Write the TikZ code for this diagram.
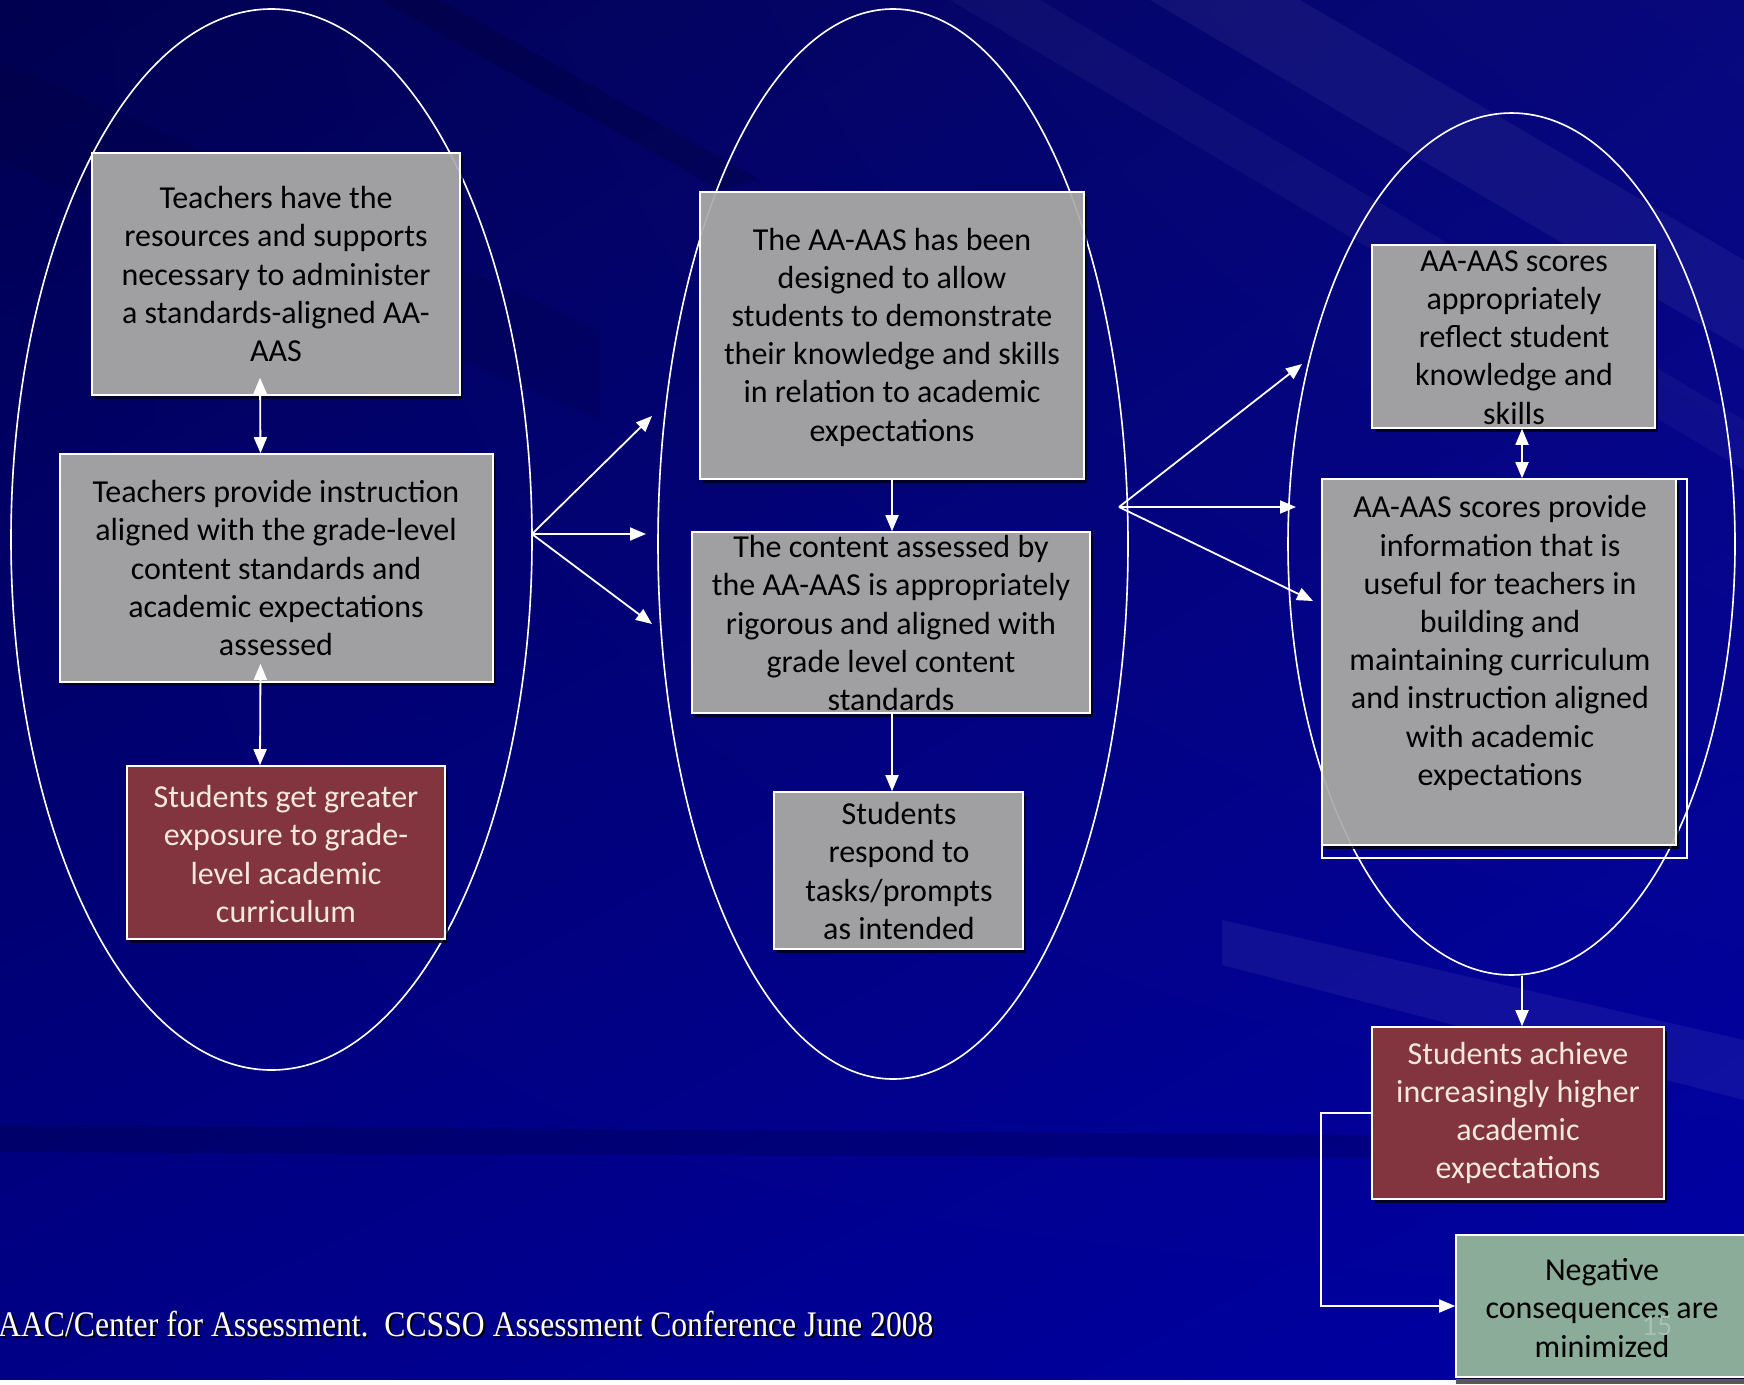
\documentclass[tikz,border=0pt]{standalone}
\usepackage{fontspec}
\setmainfont{Carlito}
\newfontfamily\footfont{Liberation Serif}
\usetikzlibrary{arrows.meta,shapes.geometric,shadows,shadings}

\definecolor{boxgray}{RGB}{160,160,163}
\definecolor{boxmaroon}{RGB}{131,53,63}
\definecolor{boxsage}{RGB}{139,172,152}
\definecolor{paletext}{RGB}{243,232,222}
\definecolor{shadowc}{RGB}{0,0,40}
\definecolor{bgul}{RGB}{0,0,80}
\definecolor{bgur}{RGB}{8,8,125}
\definecolor{bgll}{RGB}{0,0,135}
\definecolor{bglr}{RGB}{0,0,165}

\begin{document}
\begin{tikzpicture}[x=1pt,y=-1pt,
  bx/.style={draw=white, line width=1.6pt, inner sep=0pt,
    drop shadow={shadow xshift=3pt, shadow yshift=-4pt, fill=shadowc, opacity=1}},
  graybox/.style={bx, fill=boxgray},
  redbox/.style={bx, fill=boxmaroon},
  greenbox/.style={bx, fill=boxsage},
  txt/.style={align=center, inner sep=0pt, font=\fontsize{32}{38.2}\selectfont},
  oval/.style={ellipse, draw=white, line width=1.6pt, inner sep=0pt},
  arr/.style={draw=white, line width=1.8pt, -{Triangle[length=16pt,width=13pt]}},
  darr/.style={draw=white, line width=1.8pt, {Triangle[length=16pt,width=13pt]}-{Triangle[length=16pt,width=13pt]}},
  link/.style={draw=white, line width=1.6pt, -{Triangle[length=16pt,width=13pt]}}
]
\useasboundingbox (0,0) rectangle (1744,1384);
\clip (0,0) rectangle (1744,1384);

% background
\fill[white] (0,0) rectangle (1744,1384);
\shade[upper left=bgul, upper right=bgur, lower left=bgll, lower right=bglr]
  (0,0) rectangle (1744,1380);
\fill[white, opacity=0.05] (1150,0) -- (1300,0) -- (1744,260) -- (1744,350) -- cycle;
\fill[white, opacity=0.04] (950,0) -- (1040,0) -- (1744,420) -- (1744,470) -- cycle;
\fill[black, opacity=0.15] (380,0) -- (440,0) -- (760,180) -- (720,190) -- cycle;
\fill[white, opacity=0.06] (1222,920) -- (1744,1040) -- (1744,1100) -- (1222,965) -- cycle;
\fill[black, opacity=0.15] (0,1125) -- (1372,1135) -- (1372,1158) -- (0,1152) -- cycle;
\fill[black, opacity=0.08] (0,60) -- (0,160) -- (600,420) -- (600,330) -- cycle;

% ellipses
\node[oval, minimum width=521pt, minimum height=1061pt] (e1) at (271.5,539.5) {};
\node[oval, minimum width=470pt, minimum height=1070pt] (e2) at (893,544) {};
\node[oval, minimum width=447pt, minimum height=862pt] (e3) at (1511.5,544) {};

% boxes
\node[graybox, minimum width=368pt, minimum height=242pt] (A) at (276,274) {};
\node[graybox, minimum width=433pt, minimum height=228pt] (B) at (276.5,568) {};
\node[redbox, minimum width=318pt, minimum height=173pt] (C) at (286,852.5) {};
\node[graybox, minimum width=384pt, minimum height=287pt] (D) at (892,335.5) {};
\node[graybox, minimum width=398pt, minimum height=181pt] (E) at (891,622.5) {};
\node[graybox, minimum width=249pt, minimum height=157pt] (F) at (898.5,870.5) {};
\node[graybox, minimum width=283pt, minimum height=183pt] (G) at (1513.5,336.5) {};
\node[graybox, minimum width=354pt, minimum height=366pt] (H) at (1499,662) {};
\node[draw=white, line width=1.6pt, minimum width=365pt, minimum height=379pt, inner sep=0pt] (Hframe) at (1504.5,668.5) {};
\node[redbox, minimum width=292pt, minimum height=172pt] (I) at (1518,1113) {};
\node[greenbox, minimum width=292pt, minimum height=142pt] (J) at (1602,1306) {};

% faint ellipse lines over boxes
\draw[white, line width=1.4pt, opacity=0.18] (271.5,539.5) ellipse [x radius=260.5, y radius=530.5];
\draw[white, line width=1.4pt, opacity=0.18] (893,544) ellipse [x radius=235, y radius=535];
\draw[white, line width=1.4pt, opacity=0.18] (1511.5,544) ellipse [x radius=223.5, y radius=431];

% texts
\node[txt] (tA) at (276,274) {Teachers have the\\resources and supports\\necessary to administer\\a standards-aligned AA-\\AAS};
\node[txt] (tB) at (276,568) {Teachers provide instruction\\aligned with the grade-level\\content standards and\\academic expectations\\assessed};
\node[txt, text=paletext] (tC) at (286,854) {Students get greater\\exposure to grade-\\level academic\\curriculum};
\node[txt] (tD) at (892,337) {The AA-AAS has been\\designed to allow\\students to demonstrate\\their knowledge and skills\\in relation to academic\\expectations};
\node[txt] (tE) at (891,623) {The content assessed by\\the AA-AAS is appropriately\\rigorous and aligned with\\grade level content\\standards};
\node[txt] (tF) at (899,871) {Students\\respond to\\tasks/prompts\\as intended};
\node[txt] (tG) at (1514,337.5) {AA-AAS scores\\appropriately\\reflect student\\knowledge and\\skills};
\node[txt] (tH) at (1500,643) {AA-AAS scores provide\\information that is\\useful for teachers in\\building and\\maintaining curriculum\\and instruction aligned\\with academic\\expectations};
\node[txt, text=paletext] (tI) at (1518,1113) {Students achieve\\increasingly higher\\academic\\expectations};
\node[txt] (tJ) at (1602,1308) {Negative\\consequences are\\minimized};
\node[font=\fontsize{30}{36}\selectfont, text=boxsage!75!white, inner sep=0pt] (pg) at (1657,1326) {15};

% fan coordinates
\coordinate (f1) at (532,534);
\coordinate (f1a) at (652,416);
\coordinate (f1b) at (646,534);
\coordinate (f1c) at (652,624);
\coordinate (f2) at (1119,507);
\coordinate (f2a) at (1302,364);
\coordinate (f2b) at (1296,507);
\coordinate (f2c) at (1313,601);

% connectors
\draw[darr] ([xshift=-16pt,yshift=18pt]A.south) -- ([xshift=-16pt]B.north);
\draw[darr] ([xshift=-16pt,yshift=19pt]B.south) -- ([xshift=-26pt]C.north);
\draw[arr] (f1) -- (f1a);
\draw[arr] (f1) -- (f1b);
\draw[arr] (f1) -- (f1c);
\draw[arr] (D.south) -- (D.south |- E.north);
\draw[arr] ([xshift=1pt]E.south) -- ([xshift=-6.5pt]F.north);
\draw[arr] (f2) -- (f2a);
\draw[arr] (f2) -- (f2b);
\draw[arr] (f2) -- (f2c);
\draw[darr] ([xshift=8.5pt]G.south) -- ([xshift=8.5pt]G.south |- H.north);
\draw[arr] ([xshift=4pt]I.north |- e3.south) -- ([xshift=4pt]I.north);
\draw[link] (I.west) -- ++(-50,0) |- (J.west);

% footer
\node[anchor=base west, inner sep=0pt, text=black, font=\footfont\fontsize{36}{40}\selectfont] (footsh) at (0,1338) {\scalebox{0.88}[1]{AAC/Center for Assessment.\ \ CCSSO Assessment Conference June 2008}};
\node[anchor=base west, inner sep=0pt, text=white, font=\footfont\fontsize{36}{40}\selectfont] (foot) at (-2,1336) {\scalebox{0.88}[1]{AAC/Center for Assessment.\ \ CCSSO Assessment Conference June 2008}};

% bottom strip
\fill[white] (0,1380) rectangle (1744,1384);
\fill[black!65] (1456,1379) rectangle (1744,1384);
\end{tikzpicture}
\end{document}
